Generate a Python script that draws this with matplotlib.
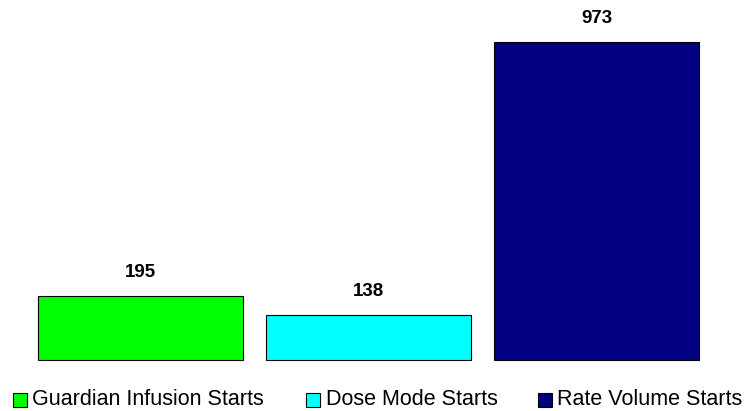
import matplotlib
matplotlib.use("Agg")
import matplotlib.pyplot as plt
from matplotlib.patches import Rectangle

categories = ["Guardian Infusion Starts", "Dose Mode Starts", "Rate Volume Starts"]
values = [195, 138, 973]
colors = ["#00FF00", "#00FFFF", "#000080"]

plt.rcParams["font.family"] = ["Liberation Sans", "DejaVu Sans"]

W, H = 745, 411
fig = plt.figure(figsize=(W / 100, H / 100), dpi=100)
ax = fig.add_axes([0.036, 0.124, 0.918, 0.876])

x = list(range(len(values)))
bars = ax.bar(x, values, width=0.9, color=colors, edgecolor="black",
              linewidth=0.8, clip_on=False)
for rect, v in zip(bars, values):
    ax.annotate(str(v), (rect.get_x() + rect.get_width() / 2, v),
                xytext=(0, 13.5), textcoords="offset points",
                ha="center", va="baseline", fontsize=13.5, fontweight="bold")

ax.set_xlim(-0.5, 2.5)
ax.set_ylim(0, 1100)
ax.axis("off")

# legend drawn by hand, positions in pixels
marker_x = [13, 306, 538]
text_x = [32, 326, 557]
for mx, tx, c, label in zip(marker_x, text_x, colors, categories):
    fig.add_artist(Rectangle((mx / W, (H - 407) / H), 14 / W, 14 / H,
                             transform=fig.transFigure, facecolor=c,
                             edgecolor="black", linewidth=0.8))
    fig.text(tx / W, (H - 405) / H, label, fontsize=15.5,
             ha="left", va="baseline")

fig.savefig("out.png", dpi=100)
